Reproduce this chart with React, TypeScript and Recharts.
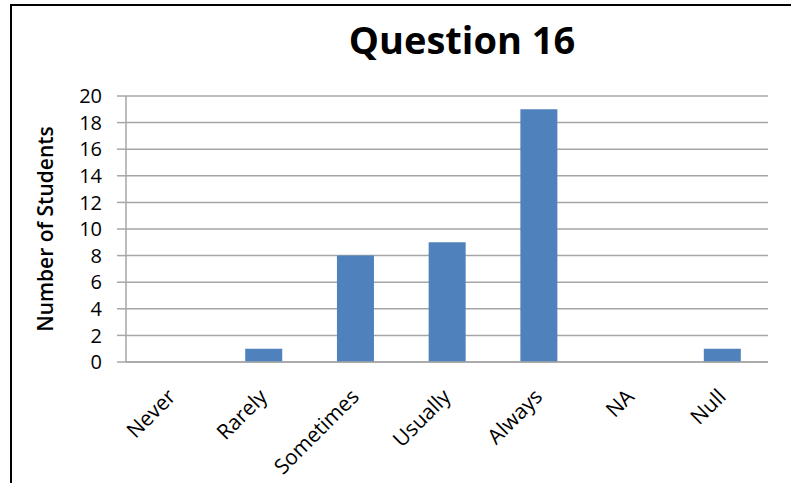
import { BarChart, Bar, XAxis, YAxis, CartesianGrid } from "recharts";

const categories = ["Never", "Rarely", "Sometimes", "Usually", "Always", "NA", "Null"];
const students = [0, 1, 8, 9, 19, 0, 1];
const yTicks = [0, 2, 4, 6, 8, 10, 12, 14, 16, 18, 20];

const data = categories.map((name, i) => ({ name, count: students[i] }));

const FONT = "'Open Sans', 'Noto Sans', sans-serif";

// rotated category labels, anchored at their end like Excel does
// eslint-disable-next-line @typescript-eslint/no-explicit-any
const CategoryTick = (props: any) => {
  const { x, y, payload } = props;
  const tx = x + 5;
  const ty = y + 28;
  return (
    <text
      x={tx}
      y={ty}
      textAnchor="end"
      fontSize={21}
      fontFamily={FONT}
      fill="#000"
      transform={`rotate(-45, ${tx}, ${ty})`}
    >
      {payload.value}
    </text>
  );
};

// eslint-disable-next-line @typescript-eslint/no-explicit-any
const YLabel = (props: any) => {
  const vb = props.viewBox;
  const cy = vb.y + vb.height / 2;
  return (
    <text
      x={45}
      y={cy}
      textAnchor="middle"
      dominantBaseline="central"
      fontSize={21}
      fontWeight={600}
      fontFamily={FONT}
      fill="#000"
      transform={`rotate(-90, 45, ${cy})`}
    >
      Number of Students
    </text>
  );
};

export default function App() {
  return (
    <div
      style={{
        position: "absolute",
        left: 0,
        top: 0,
        width: 791,
        height: 483,
        background: "#fff",
        overflow: "hidden",
      }}
    >
      <div
        style={{
          position: "absolute",
          left: 10,
          top: 4,
          width: 800,
          height: 500,
          borderLeft: "2px solid #000",
          borderTop: "2px solid #000",
        }}
      />
      <div
        style={{
          position: "absolute",
          left: 262,
          top: 21,
          width: 400,
          textAlign: "center",
          fontFamily: FONT,
          fontWeight: 700,
          fontSize: 38,
          lineHeight: "37px",
          color: "#000",
        }}
      >
        Question 16
      </div>
      <div style={{ position: "absolute", left: 0, top: 0 }}>
        <BarChart
          width={791}
          height={483}
          data={data}
          margin={{ top: 96, right: 23, bottom: 0, left: 56 }}
          barCategoryGap="30%"
        >
          <CartesianGrid vertical={false} stroke="#a6a6a6" strokeWidth={1.5} />
          <XAxis
            dataKey="name"
            interval={0}
            tickLine={false}
            axisLine={{ stroke: "#a6a6a6", strokeWidth: 1.5 }}
            tick={<CategoryTick />}
            height={121}
          />
          <YAxis
            width={70}
            domain={[0, 20]}
            ticks={yTicks}
            interval={0}
            tickSize={9}
            tickMargin={15}
            tickLine={{ stroke: "#a6a6a6", strokeWidth: 1.5 }}
            axisLine={{ stroke: "#a6a6a6", strokeWidth: 1.5 }}
            tick={{ fontSize: 20, fontFamily: FONT, fill: "#000" }}
            label={<YLabel />}
          />
          <Bar dataKey="count" fill="#4F81BD" isAnimationActive={false} />
        </BarChart>
      </div>
    </div>
  );
}
